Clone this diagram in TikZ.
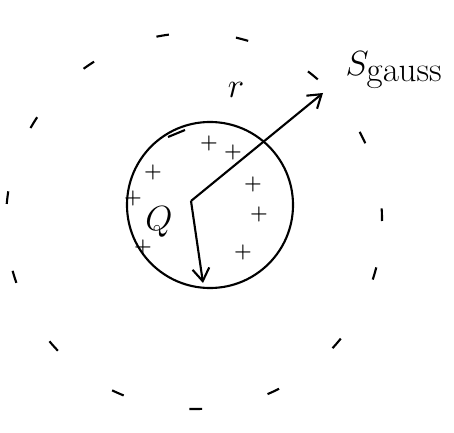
\documentclass[tikz,border=0pt]{standalone}
\usetikzlibrary{arrows.meta}
\begin{document}
\begin{tikzpicture}[x=0.025cm, y=-0.025cm,
        ball/.style={draw, circle, line width=1.5pt, minimum size=4.15cm, inner sep=0pt},
        surface/.style={draw, circle, line width=1.5pt, minimum size=9.4cm, inner sep=0pt, dash pattern=on 9pt off 48pt},
        charge/.style={font=\Large\bfseries, inner sep=0pt},
        vec/.style={line width=1.5pt, -{Straight Barb[length=9pt, width=12pt]}},
        hand/.style={font=\fontsize{30}{32}\selectfont, inner sep=0pt}
    ]
    \useasboundingbox (0,0) rectangle (454,433);

    \node[surface] (gauss) at (194,221) {};
    \node[ball] (ball) at (210,205) {};
    \coordinate (o) at (191,201);
    \coordinate (rtip) at (323,93);
    \coordinate (rbot) at (203,283);

    \draw[vec] (o) -- (rtip);
    \draw[vec] (o) -- (rbot);

    \node[hand] (rlabel) at (236,90) {$r$};
    \node[hand] (qlabel) at (159,222) {$Q$};
    \node[font=\fontsize{40}{42}\selectfont, inner sep=0pt] (sname) at (394,70) {$S_{\mathrm{gauss}}$};

    \foreach \px/\py in {209/143, 233/152, 153/172, 133/198, 253/184, 259/214, 143/247, 243/252}
        \node[charge] at (\px,\py) {+};
    \draw[line width=1.5pt] (168,137) -- (185,130);

\end{tikzpicture}
\end{document}
